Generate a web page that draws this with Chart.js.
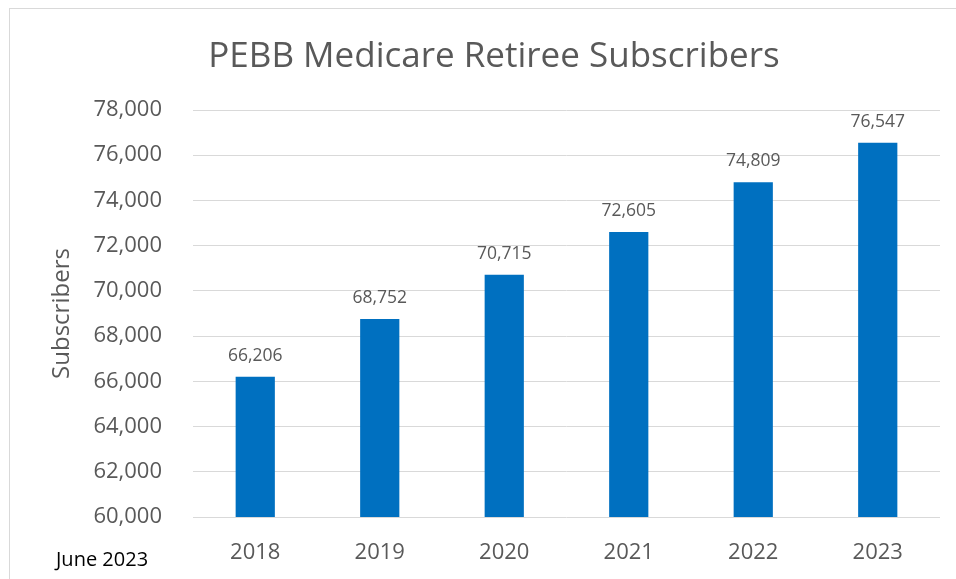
<!DOCTYPE html>
<html>
<head>
<meta charset="utf-8">
<script src="https://cdn.jsdelivr.net/npm/chart.js@4/dist/chart.umd.min.js"></script>
<style>
    html, body { margin: 0; padding: 0; background: #ffffff; }
    #wrap { position: relative; width: 956px; height: 579px; overflow: hidden; }
    #frame { position: absolute; left: 9px; top: 8px; width: 1000px; height: 700px; border: 1px solid #d9d9d9; box-sizing: border-box; }
    canvas { position: absolute; left: 0; top: 0; }
    #note { position: absolute; left: 56px; top: 545px; font-family: 'Open Sans', sans-serif; font-size: 20px; color: #000000; }
</style>
</head>
<body>
<div id="wrap">
    <div id="frame"></div>
    <canvas id="subscribers-chart" width="956" height="579"></canvas>
    <div id="note">June 2023</div>
</div>
<script>
const years = ['2018', '2019', '2020', '2021', '2022', '2023'];
const subscribers = [66206, 68752, 70715, 72605, 74809, 76547];
const yMin = 60000;
const yMax = 78000;
const yStep = 2000;
const chartTitle = 'PEBB Medicare Retiree Subscribers';

const textGray = '#595959';
const font = "'Open Sans', sans-serif";

// labels above each bar + the title (centred on the frame, not the plot)
const barLabels = {
    id: 'barLabels',
    afterDatasetsDraw( chart )
    {
        const ctx = chart.ctx;
        const meta = chart.getDatasetMeta(0);
        ctx.save();
        ctx.font = '17.5px ' + font;
        ctx.fillStyle = textGray;
        ctx.textAlign = 'center';
        ctx.textBaseline = 'bottom';
        meta.data.forEach( (bar, i) => {
            ctx.fillText( subscribers[i].toLocaleString('en-US'), bar.x, bar.y - 12 );
        } );

        ctx.font = '35px ' + font;
        ctx.textBaseline = 'middle';
        ctx.fillText( chartTitle, 494, 57 );
        ctx.restore();
    }
};

document.addEventListener('DOMContentLoaded', function(){

    const ctx = document.getElementById('subscribers-chart').getContext('2d');
    new Chart( ctx, {
        type: 'bar',
        data: {
            labels: years,
            datasets: [{
                label: 'Subscribers',
                data: subscribers,
                backgroundColor: '#0070C0',
                barPercentage: 0.63,
                categoryPercentage: 0.5,
            }]
        },
        options: {
            responsive: false,
            animation: false,
            layout: { padding: { left: 20, right: 16, top: 110, bottom: 0 } },
            plugins: {
                legend: { display: false },
                tooltip: { enabled: false },
                title: { display: false }
            },
            scales: {
                x: {
                    grid: { display: false },
                    border: { display: false },
                    ticks: { color: textGray, font: { family: font, size: 22 }, padding: 15 },
                    afterFit: scale => { scale.height = 62; }
                },
                y: {
                    min: yMin,
                    max: yMax,
                    ticks: {
                        stepSize: yStep,
                        color: textGray,
                        font: { family: font, size: 22 },
                        padding: 31,
                        callback: v => v.toLocaleString('en-US')
                    },
                    grid: { color: '#d9d9d9', lineWidth: 1, drawTicks: false },
                    border: { display: false },
                    title: {
                        display: true,
                        text: 'Subscribers',
                        color: textGray,
                        font: { family: font, size: 24 },
                        padding: { top: 28, bottom: 0 }
                    },
                    afterFit: scale => { scale.width = 173; }
                }
            }
        },
        plugins: [barLabels]
    });

});
</script>
</body>
</html>
